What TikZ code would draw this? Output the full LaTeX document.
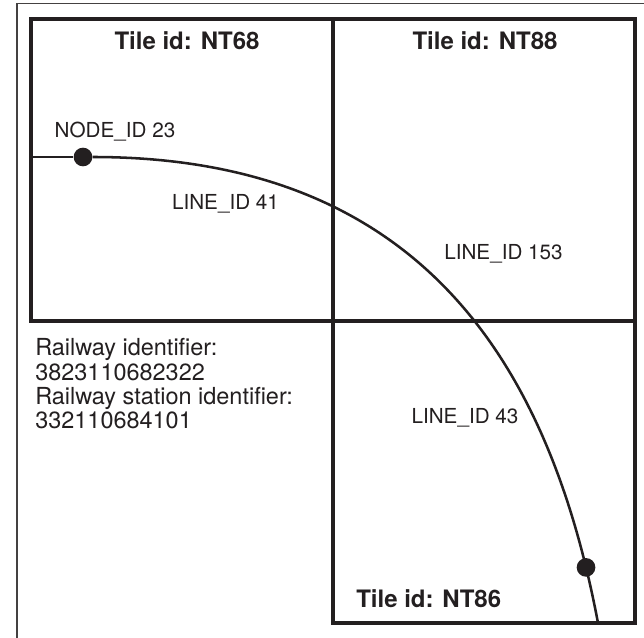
\documentclass[tikz,border=0pt]{standalone}
\usepackage{fontspec}
\setmainfont{TeX Gyre Heros}
\definecolor{ink}{RGB}{35,31,32}

\begin{document}
\begin{tikzpicture}[x=0.75pt,y=0.75pt,yscale=-1,xscale=1,
  tile/.style={draw=ink, line width=2.4pt},
  track/.style={draw=ink, line width=1.9pt},
  junction/.style={circle, fill=ink, inner sep=0pt, minimum size=14pt},
  tilelabel/.style={font=\fontsize{18}{21}\selectfont\bfseries, text=ink, inner sep=0pt, anchor=base},
  idlabel/.style={font=\fontsize{15.5}{18}\selectfont, text=ink, inner sep=0pt, anchor=base}]
\useasboundingbox (0,0) rectangle (644,638);

%Straight Lines: outer frame
\draw [color=ink!85, line width=0.9pt] (17,638) -- (17,3.5) -- (644,3.5) ;

%Shape: Rectangle, tiles
\draw [tile] (31,19) rectangle (333,321) ;
\draw [tile] (333,19) rectangle (635,321) ;
\draw [tile] (333,321) rectangle (635,623) ;

%Tile names
\node [tilelabel] (tile68) at (187,49.5) {Tile id: NT68};
\node [tilelabel] (tile88) at (485,49.5) {Tile id: NT88};
\node [tilelabel, anchor=base west] (tile86) at (356,607.5) {Tile id: NT86};

%Railway line and its nodes
\node [junction] (node23) at (83,157) {};
\coordinate (westend) at (31,157);
\coordinate (southend) at (598,623);
\draw [track] (westend) -- (node23) ;
\draw [track] (node23) .. controls (413,157) and (547,353) .. (southend) node [junction, pos=0.93] (nodeS) {} ;

%Identifiers
\node [idlabel] (lblnode23) at (115,137.5) {NODE\_ID 23};
\node [idlabel] (lblline41) at (225.5,210) {LINE\_ID 41};
\node [idlabel] (lblline153) at (503.5,259.5) {LINE\_ID 153};
\node [idlabel] (lblline43) at (465,424) {LINE\_ID 43};
\node [idlabel, font=\fontsize{17.6}{18.1}\selectfont, align=left, anchor=base west] (railinfo) at (35,428.3) {Railway identifier:\\3823110682322\\Railway station identifier:\\332110684101};

\end{tikzpicture}
\end{document}
